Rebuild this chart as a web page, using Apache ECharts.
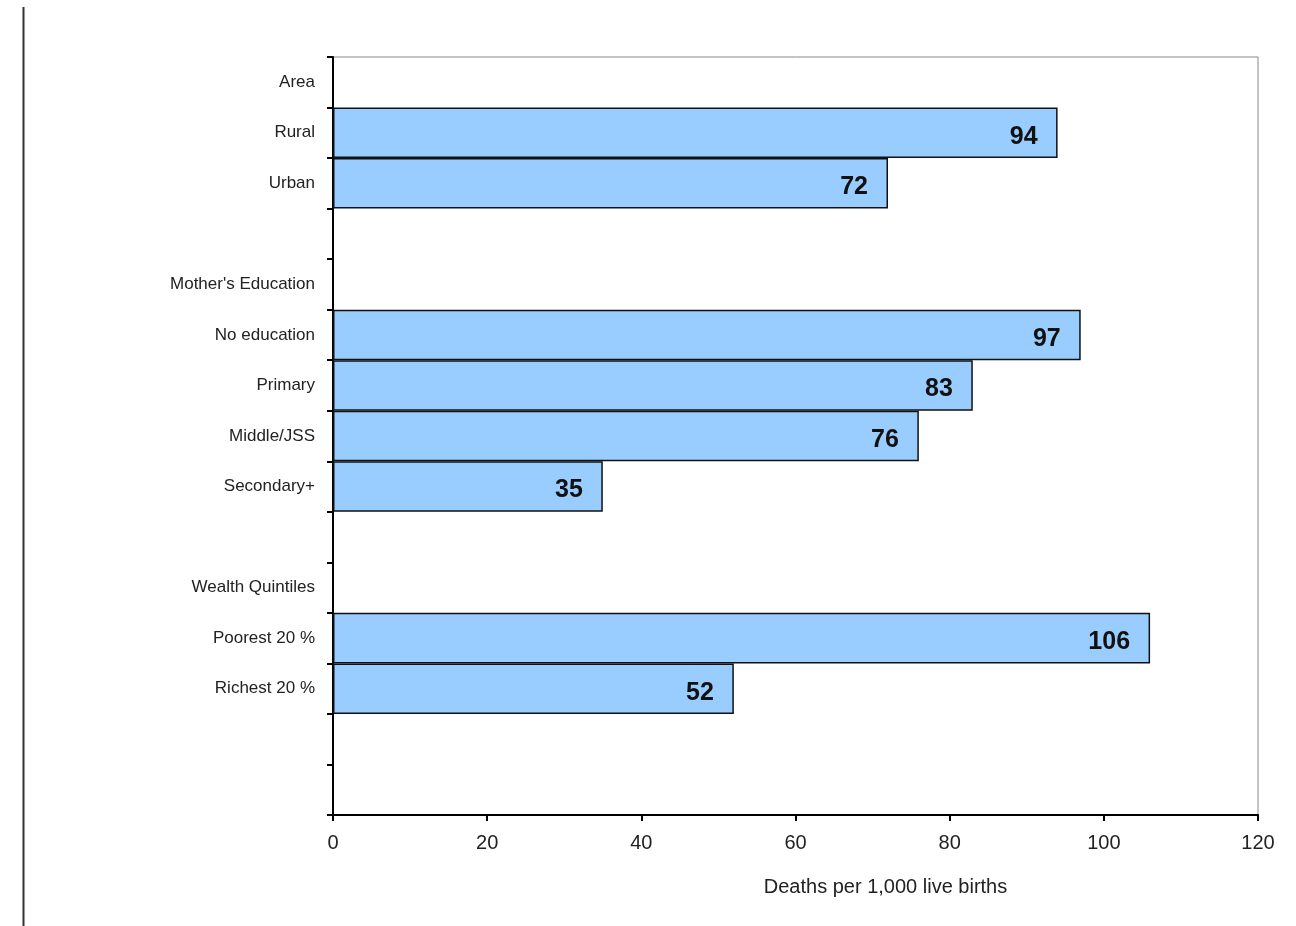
<!DOCTYPE html>
<html>
<head>
<meta charset="utf-8">
<script src="https://cdn.jsdelivr.net/npm/echarts@6/dist/echarts.min.js"></script>
<style>html,body{margin:0;padding:0;background:#fff;}#c{width:1296px;height:926px;}</style>
</head>
<body>
<div id="c"></div>
<script>
const categories = ['Area','Rural','Urban','','Mother\'s Education','No education','Primary','Middle/JSS','Secondary+',' ','Wealth Quintiles','Poorest 20 %','Richest 20 %','  ','   '];
const values = ['-',94,72,'-','-',97,83,76,35,'-','-',106,52,'-','-'];
const xTicks = {min:0,max:120,interval:20};
const xTitle = 'Deaths per 1,000 live births';

const chart = echarts.init(document.getElementById('c'));
chart.setOption({
  animation:false,
  backgroundColor:'#fff',
  grid:{left:333,right:38,top:57,bottom:111,show:true,borderColor:'#888',borderWidth:1,backgroundColor:'transparent'},
  graphic:[{type:'line',shape:{x1:23.5,y1:7,x2:23.5,y2:926},style:{stroke:'#333',lineWidth:2}}],
  xAxis:{type:'value',min:xTicks.min,max:xTicks.max,interval:xTicks.interval,
    axisLine:{show:true,lineStyle:{color:'#000',width:2}},
    axisTick:{show:true,length:6,lineStyle:{color:'#000',width:2}},
    splitLine:{show:false},
    axisLabel:{color:'#222',fontSize:20,fontFamily:'Liberation Sans, Arial',margin:18},
    name:xTitle,nameLocation:'middle',nameGap:62,
    nameTextStyle:{color:'#222',fontSize:20,fontFamily:'Liberation Sans, Arial',padding:[0,0,0,180]}
  },
  yAxis:{type:'category',data:categories,inverse:true,
    axisLine:{show:true,lineStyle:{color:'#000',width:2}},
    axisTick:{show:true,length:6,alignWithLabel:false,lineStyle:{color:'#000',width:2}},
    axisLabel:{color:'#222',fontSize:17,fontFamily:'Liberation Sans, Arial',margin:18}
  },
  series:[{type:'bar',data:values,barCategoryGap:'0%',
    itemStyle:{color:'#99CCFF',borderColor:'#111',borderWidth:1.5},
    label:{show:true,position:'insideRight',distance:20,offset:[0,4],color:'#111',fontSize:25,fontWeight:'bold',fontFamily:'Liberation Sans, Arial'}
  }]
});
</script>
</body>
</html>
